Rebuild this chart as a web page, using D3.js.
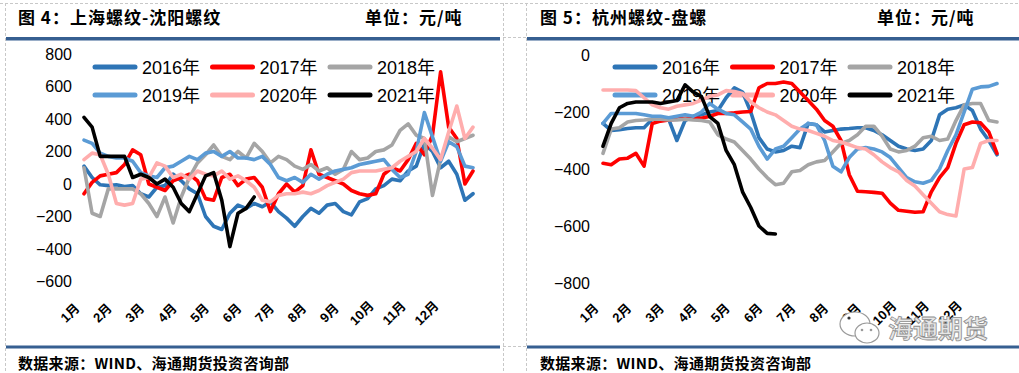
<!DOCTYPE html>
<html>
<head>
<meta charset="utf-8">
<script src="https://cdn.jsdelivr.net/npm/d3@7"></script>
<style>
  html, body { margin: 0; padding: 0; background: #fff; }
  svg { display: block; }
  .cjk { font-family: "Noto Sans CJK SC", sans-serif; font-weight: 700; }
  .num { font-family: "Liberation Sans", Arial, "Noto Sans CJK SC", sans-serif; }
</style>
</head>
<body>
<svg id="chart" width="1019" height="373"></svg>
<script>
// one value every quarter of a month, starting at 1 Jan
var STEP = 0.25;

var monthLabels = ["1月", "2月", "3月", "4月", "5月", "6月", "7月", "8月", "9月", "10月", "11月", "12月"];
var yearLabels = ["2016年", "2017年", "2018年", "2019年", "2020年", "2021年"];
var shTicks = [-600, -400, -200, 0, 200, 400, 600, 800];
var hzTicks = [-800, -600, -400, -200, 0];

// 上海螺纹-沈阳螺纹
var sh2016 = [110, 40, -5, -10, -5, -15, -10, -60, -80, -20, -10, 60, 20, -30, -60, -200, -260, -280, -180, -130,
  -150, -120, -140, -110, -170, -210, -260, -200, -150, -180, -130, -120, -170, -190, -110, -90, -30, -10, 30, 20,
  80, 110, 250, 200, 100, 140, 60, -100, -60];
var sh2017 = [-60, 10, 50, 60, 70, 120, 210, 180, 0, -20, -40, 20, 40, 60, 20, -90, -100, 40, 60, -10,
  30, 40, -20, -170, -60, 0, -50, -10, 210, 60, 40, 20, 0, -40, -60, -70, -60, 60, 100, 80,
  150, 250, 180, 300, 690, 350, 280, 0, 80];
var sh2018 = [100, -180, -200, -30, -30, -30, -30, -60, -120, -200, -80, -240, -80, 40, 130, 180, 240, 170, 150, 200,
  160, 250, 200, 130, 170, 150, 110, 90, 120, 80, 100, 60, 90, 200, 150, 160, 200, 210, 240, 330,
  370, 300, 280, -70, 150, 290, 260, 280, 300];
var sh2019 = [270, 250, 190, 170, 160, 160, 140, 70, 50, 40, 100, 110, 140, 170, 150, 190, 200, 170, 200, 160,
  160, 150, 170, 120, 40, 20, 40, 10, 60, 30, 60, 80, 90, 100, 120, 130, 140, 150, 90, 40,
  60, 200, 440, 290, 140, 260, 230, 110, 100];
var sh2020 = [150, 190, 180, 60, -120, -130, -120, 30, 40, 130, 110, 40, 60, 30, 80, 60, 50, 80, 30, 50,
  20, -20, -100, -110, -70, -60, -60, -50, -60, -40, -10, 10, 30, 70, 80, 80, 80, 90, 100, 140,
  170, 200, 280, 220, 150, 320, 480, 280, 350];
var sh2021 = [410, 350, 170, 170, 170, 170, 40, 60, 40, 0, 30, -20, -120, -170, -60, 50, 70, -100, -385, -180,
  -150, -80];

// 杭州螺纹-盘螺
var hz2016 = [-240, -265, -262, -258, -255, -255, -225, -220, -225, -300, -230, -215, -210, -200, -195, -150, -115, -130, -200, -290,
  -330, -340, -335, -320, -325, -240, -245, -270, -265, -260, -258, -255, -255, -265, -280, -300, -320, -330, -335, -330,
  -300, -210, -190, -185, -175, -195, -260, -300, -350];
var hz2017 = [-380, -385, -365, -362, -345, -390, -240, -232, -228, -225, -222, -222, -222, -215, -205, -205, -203, -200, -198, -115,
  -100, -100, -95, -100, -130, -160, -190, -230, -250, -300, -420, -478, -480, -482, -485, -520, -545, -548, -552, -550,
  -480, -430, -395, -310, -245, -235, -238, -270, -345];
var hz2018 = [-345, -260, -255, -235, -230, -228, -225, -225, -228, -228, -225, -228, -230, -235, -280, -295, -305, -335, -365, -400,
  -430, -455, -450, -410, -405, -385, -375, -370, -340, -310, -300, -280, -250, -250, -285, -330, -340, -335, -320, -290,
  -285, -300, -295, -230, -175, -170, -170, -230, -235];
var hz2019 = [-240, -205, -205, -205, -205, -210, -215, -215, -220, -215, -210, -215, -200, -170, -190, -205, -210, -235, -260, -320,
  -365, -330, -320, -290, -260, -240, -245, -300, -390, -410, -360, -330, -325, -330, -340, -360, -395, -430, -445, -450,
  -440, -400, -335, -280, -200, -120, -112, -110, -100];
var hz2020 = [-123, -123, -123, -123, -125, -150, -175, -185, -190, -180, -175, -170, -158, -145, -140, -125, -128, -135, -165, -185,
  -200, -210, -230, -250, -260, -265, -275, -285, -300, -305, -315, -325, -330, -350, -375, -395, -410, -440, -460, -490,
  -520, -550, -560, -565, -400, -395, -310, -300, -300];
var hz2021 = [-320, -240, -185, -170, -165, -165, -165, -170, -165, -160, -105, -130, -146, -216, -240, -335, -385, -480, -535, -600,
  -626, -628];

var lineColors = ["#2E75B6", "#FF0000", "#A5A5A5", "#5B9BD5", "#FFADAD", "#000000"];
var barColor = "#365F91";

var panels = [
  {
    title: "图 4：上海螺纹-沈阳螺纹", titleX: 18, unitX: 365,
    barX0: 6, barX1: 500,
    plotX0: 84, plotX1: 473,
    domain: [-600, 800], range: [281.5, 54],
    labelRight: 72, ticks: shTicks, legendX: 93,
    series: [sh2016, sh2017, sh2018, sh2019, sh2020, sh2021]
  },
  {
    title: "图 5：杭州螺纹-盘螺", titleX: 540, unitX: 877,
    barX0: 527, barX1: 1019,
    plotX0: 603, plotX1: 997,
    domain: [-800, 0], range: [283, 55],
    labelRight: 590, ticks: hzTicks, legendX: 613,
    series: [hz2016, hz2017, hz2018, hz2019, hz2020, hz2021]
  }
];

var svg = d3.select("#chart");

// dashed cell borders of the page layout
var dash = svg.append("g")
    .attr("stroke", "#c8c8c8")
    .attr("stroke-width", 1)
    .attr("stroke-dasharray", "3,2")
    .attr("fill", "none");
dash.append("line").attr("x1", 0).attr("x2", 1019).attr("y1", 3.5).attr("y2", 3.5);
dash.append("line").attr("x1", 5.5).attr("x2", 5.5).attr("y1", 3).attr("y2", 373);
dash.append("line").attr("x1", 503.5).attr("x2", 503.5).attr("y1", 3).attr("y2", 373);
dash.append("line").attr("x1", 526.5).attr("x2", 526.5).attr("y1", 3).attr("y2", 373);
dash.append("line").attr("x1", 503).attr("x2", 527).attr("y1", 37.5).attr("y2", 37.5);
dash.append("line").attr("x1", 503).attr("x2", 527).attr("y1", 346.5).attr("y2", 346.5);

panels.forEach(function(p) {
    var x = d3.scaleLinear().domain([0, 12]).range([p.plotX0, p.plotX1]);
    var y = d3.scaleLinear().domain(p.domain).range(p.range);
    var g = svg.append("g");

    // header: title, unit and blue rules
    g.append("text")
        .attr("class", "cjk")
        .attr("x", p.titleX).attr("y", 24)
        .attr("font-size", 17)
        .attr("letter-spacing", 1)
        .text(p.title);
    g.append("text")
        .attr("class", "cjk")
        .attr("x", p.unitX).attr("y", 24)
        .attr("font-size", 17)
        .attr("letter-spacing", 1)
        .text("单位：元/吨");
    g.append("rect")
        .attr("x", p.barX0).attr("y", 37)
        .attr("width", p.barX1 - p.barX0).attr("height", 3.5)
        .attr("fill", barColor);
    g.append("rect")
        .attr("x", p.barX0).attr("y", 345.5)
        .attr("width", p.barX1 - p.barX0).attr("height", 3)
        .attr("fill", barColor);
    g.append("text")
        .attr("class", "cjk")
        .attr("x", p.titleX).attr("y", 369)
        .attr("font-size", 15)
        .attr("letter-spacing", 0.3)
        .text("数据来源：WIND、海通期货投资咨询部");

    // y axis, labels only
    var yAxis = d3.axisLeft(y)
        .tickValues(p.ticks)
        .tickSize(0)
        .tickPadding(0)
        .tickFormat(function(d) { return d < 0 ? "\u2212" + Math.abs(d) : d; });
    var ya = g.append("g")
        .attr("transform", "translate(" + p.labelRight + ",0)")
        .call(yAxis);
    ya.select(".domain").remove();
    ya.selectAll("text")
        .attr("class", "num")
        .attr("font-size", 16)
        .attr("fill", "#000")
        .attr("dy", "0.34em");

    // month labels, rotated
    g.selectAll(".month")
        .data(monthLabels)
        .enter().append("text")
        .attr("class", "num month")
        .attr("font-size", 13)
        .attr("font-weight", 700)
        .attr("text-anchor", "middle")
        .attr("dominant-baseline", "central")
        .attr("transform", function(d, i) { return "translate(" + (x(i) - 14) + ",313) rotate(-45)"; })
        .text(function(d) { return d; });

    // legend (drawn under the lines)
    var legend = g.selectAll(".legend")
        .data(yearLabels)
        .enter().append("g")
        .attr("class", "legend")
        .attr("transform", function(d, i) {
            return "translate(" + (p.legendX + (i % 3) * 117.5) + "," + (67 + Math.floor(i / 3) * 28) + ")";
        });
    legend.append("line")
        .attr("x1", 2).attr("x2", 42)
        .attr("stroke", function(d, i) { return lineColors[i]; })
        .attr("stroke-width", 5)
        .attr("stroke-linecap", "round");
    legend.append("text")
        .attr("class", "num")
        .attr("x", 49).attr("y", 6.5)
        .attr("font-size", 18)
        .attr("fill", "#000")
        .text(function(d) { return d; });

    // series lines
    var line = d3.line()
        .x(function(d, i) { return x(i * STEP); })
        .y(function(d) { return y(d); });
    g.selectAll(".series")
        .data(p.series)
        .enter().append("path")
        .attr("class", "series")
        .attr("fill", "none")
        .attr("stroke", function(d, i) { return lineColors[i]; })
        .attr("stroke-width", 3.6)
        .attr("stroke-linejoin", "round")
        .attr("stroke-linecap", "round")
        .attr("d", line);
});

// watermark, bottom right
var wm = svg.append("g").attr("stroke", "#9a9a9a").attr("stroke-width", 1.2);
wm.append("ellipse").attr("cx", 855).attr("cy", 324).attr("rx", 15).attr("ry", 12).attr("fill", "#fff");
wm.append("ellipse").attr("cx", 867).attr("cy", 333).attr("rx", 12).attr("ry", 10).attr("fill", "#fff");
wm.append("circle").attr("cx", 849).attr("cy", 318).attr("r", 1.6).attr("fill", "#333").attr("stroke", "none");
wm.append("circle").attr("cx", 862).attr("cy", 330).attr("r", 1.3).attr("fill", "#9a9a9a").attr("stroke", "none");
wm.append("circle").attr("cx", 871).attr("cy", 330).attr("r", 1.3).attr("fill", "#9a9a9a").attr("stroke", "none");
wm.append("text")
    .attr("class", "cjk")
    .attr("x", 888).attr("y", 338)
    .attr("font-size", 25)
    .attr("font-weight", 400)
    .attr("fill", "#e6e6e6")
    .attr("stroke", "#8f8f8f")
    .attr("stroke-width", 0.8)
    .text("海通期货");
</script>
</body>
</html>
